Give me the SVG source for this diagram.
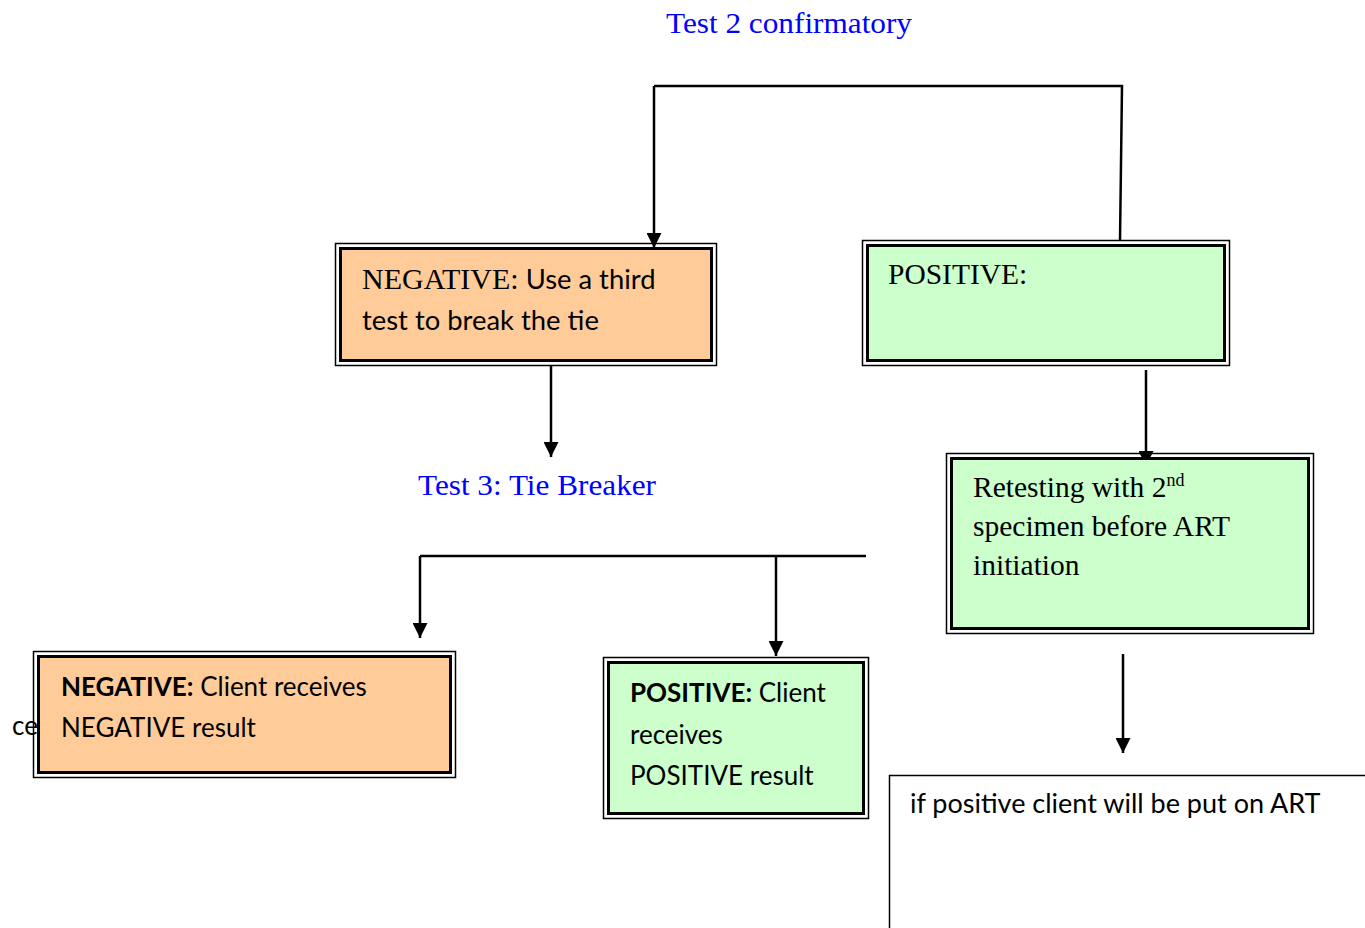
<svg xmlns="http://www.w3.org/2000/svg" width="1365" height="928" viewBox="0 0 1365 928">
  <defs>
    <marker id="arrow" viewBox="0 0 10 10" refX="10" refY="5" markerWidth="16" markerHeight="15" markerUnits="userSpaceOnUse" orient="auto">
      <path d="M0,0 L10,5 L0,10 Z" fill="#000"/>
    </marker>
    <style>
      .outer { fill: none; stroke: #000; stroke-width: 1.5; }
      .inner { stroke: #000; stroke-width: 3; }
      .orange { fill: #FFCC99; }
      .green { fill: #CCFFCC; }
      .serif { font-family: "Liberation Serif", "Times New Roman", serif; fill: #000; }
      .sans { font-family: Lato, "Noto Sans", sans-serif; fill: #000; }
      .label { font-family: "Liberation Serif", serif; fill: #0000FF; font-size: 30px; }
      .conn { fill: none; stroke: #000; stroke-width: 2.5; }
      .conn-a { fill: none; stroke: #000; stroke-width: 2.5; marker-end: url(#arrow); }
    </style>
  </defs>
  <rect width="1365" height="928" fill="#fff"/>

  <!-- stage labels -->
  <text class="label" x="666" y="33" textLength="246" lengthAdjust="spacingAndGlyphs">Test 2 confirmatory</text>
  <text class="label" x="418" y="495" textLength="238" lengthAdjust="spacingAndGlyphs">Test 3: Tie Breaker</text>

  <!-- stray text partly hidden behind the negative result box -->
  <text class="sans" x="12" y="735" font-size="26">ce</text>

  <g id="connectors">
    <polyline class="conn" points="1120,241 1122,86 654,86"/>
    <line class="conn-a" x1="654" y1="86" x2="654" y2="248"/>
    <line class="conn-a" x1="551" y1="365" x2="551" y2="457"/>
    <line class="conn-a" x1="1146" y1="370" x2="1146" y2="466"/>
    <line class="conn" x1="420" y1="556" x2="866" y2="556"/>
    <line class="conn-a" x1="420" y1="556" x2="420" y2="638"/>
    <line class="conn-a" x1="776" y1="556" x2="776" y2="656"/>
    <line class="conn-a" x1="1123" y1="654" x2="1123" y2="753"/>
  </g>

  <g id="negative-third-test">
    <rect class="outer" x="335.5" y="243.5" width="381" height="122"/>
    <rect class="inner orange" x="340.5" y="248.5" width="371" height="112"/>
    <text x="362" y="289"><tspan class="serif" font-size="30">NEGATIVE:</tspan><tspan class="sans" font-size="27.4"> Use a third</tspan></text>
    <text class="sans" x="362" y="330" font-size="27.4">test to break the tie</text>
  </g>

  <g id="positive">
    <rect class="outer" x="862.5" y="240.5" width="367" height="125"/>
    <rect class="inner green" x="867.5" y="245.5" width="357" height="115"/>
    <text class="serif" x="888" y="284" font-size="29.5">POSITIVE:</text>
  </g>

  <g id="retesting">
    <rect class="outer" x="946.5" y="453.5" width="367" height="180"/>
    <rect class="inner green" x="951.5" y="458.5" width="357" height="170"/>
    <text class="serif" x="973" y="497" font-size="29.5">Retesting with 2<tspan font-size="18" dy="-11">nd</tspan></text>
    <text class="serif" x="973" y="536" font-size="29.5">specimen before ART</text>
    <text class="serif" x="973" y="575" font-size="29.5">initiation</text>
  </g>

  <g id="negative-result">
    <rect class="outer" x="33.5" y="651.5" width="422" height="126"/>
    <rect class="inner orange" x="38.5" y="656.5" width="412" height="116"/>
    <text class="sans" x="61" y="696" font-size="26"><tspan font-weight="bold">NEGATIVE:</tspan> Client receives</text>
    <text class="sans" x="61" y="737" font-size="26">NEGATIVE result</text>
  </g>

  <g id="positive-result">
    <rect class="outer" x="603.5" y="657.5" width="265" height="161"/>
    <rect class="inner green" x="608.5" y="662.5" width="255" height="151"/>
    <text class="sans" x="630" y="702" font-size="26"><tspan font-weight="bold">POSITIVE:</tspan> Client</text>
    <text class="sans" x="630" y="744" font-size="26">receives</text>
    <text class="sans" x="630" y="785" font-size="26">POSITIVE result</text>
  </g>

  <g id="art">
    <rect x="889.5" y="775.5" width="500" height="200" fill="#fff" stroke="#000" stroke-width="1.5"/>
    <text class="sans" x="910" y="813" font-size="27">if positive client will be put on ART</text>
  </g>
</svg>
